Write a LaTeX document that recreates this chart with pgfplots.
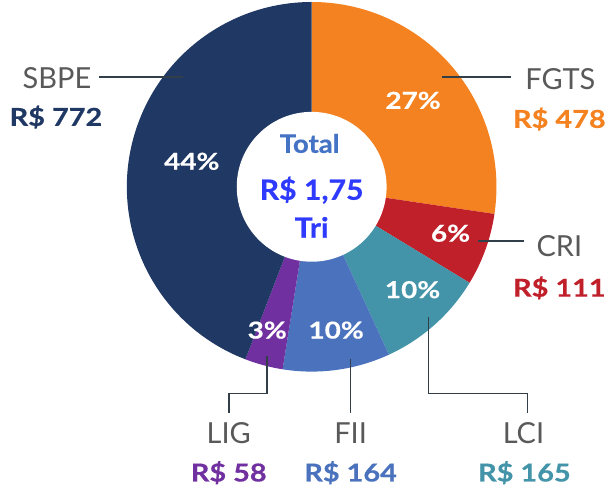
\documentclass[border=0pt]{standalone}
\usepackage{pgfplots}
\pgfplotsset{compat=1.18}
\usepackage{pgfplotstable}
\usepackage{fontspec}
\setmainfont{Lato}
\newfontfamily\bwA[FakeStretch=1.17,FakeBold=0.5]{Lato}
\newfontfamily\bwB[FakeStretch=1.2,FakeBold=0.5]{Lato}
\newfontfamily\bwC[FakeStretch=1.08,FakeBold=0.5]{Lato}
\definecolor{cSBPE}{HTML}{203864}
\definecolor{cFGTS}{HTML}{F58220}
\definecolor{cCRI}{HTML}{C0202A}
\definecolor{cLCI}{HTML}{4393A9}
\definecolor{cFII}{HTML}{4A72BD}
\definecolor{cLIG}{HTML}{7030A0}
\definecolor{ctotal}{HTML}{4472C4}
\definecolor{ctri}{HTML}{2E3BFF}
\definecolor{lbl}{HTML}{595959}
\definecolor{ln}{HTML}{333F48}
\pgfplotstableread{
name value
FGTS 478
CRI 111
LCI 165
FII 164
LIG 58
SBPE 772
}\shares
\newcommand\lblfont{\fontsize{29}{34}\selectfont}
\newcommand\valfont{\bwA\fontsize{24.7}{29}\selectfont\bfseries}
\newcommand\pctfont{\bwB\fontsize{23.3}{27}\selectfont\bfseries}
\begin{document}
\begin{tikzpicture}
\pgfplotstablegetelem{0}{value}\of\shares \let\vA\pgfplotsretval
\pgfplotstablegetelem{1}{value}\of\shares \let\vB\pgfplotsretval
\pgfplotstablegetelem{2}{value}\of\shares \let\vC\pgfplotsretval
\pgfplotstablegetelem{3}{value}\of\shares \let\vD\pgfplotsretval
\pgfplotstablegetelem{4}{value}\of\shares \let\vE\pgfplotsretval
\pgfplotstablegetelem{5}{value}\of\shares \let\vF\pgfplotsretval
\pgfmathsetmacro\tot{\vA+\vB+\vC+\vD+\vE+\vF}
\pgfmathsetmacro\aA{90}
\pgfmathsetmacro\aB{\aA-360*(\vA/\tot)}
\pgfmathsetmacro\aC{\aB-360*(\vB/\tot)}
\pgfmathsetmacro\aD{\aC-360*(\vC/\tot)}
\pgfmathsetmacro\aE{\aD-360*(\vD/\tot)}
\pgfmathsetmacro\aF{\aE-360*(\vE/\tot)}
\pgfmathsetmacro\aG{\aF-360*(\vF/\tot)}
\begin{axis}[
  width=609pt, height=490pt, scale only axis,
  xmin=0, xmax=609, ymin=0, ymax=490,
  hide axis, clip=false,
]
\addplot[draw=none] coordinates {(0,0) (609,490)};
\fill[cFGTS] (axis cs:312,303) -- ++(\aA:185pt) arc[start angle=\aA, end angle=\aB, radius=185pt] -- cycle;
\fill[cCRI] (axis cs:312,303) -- ++(\aB:185pt) arc[start angle=\aB, end angle=\aC, radius=185pt] -- cycle;
\fill[cLCI] (axis cs:312,303) -- ++(\aC:185pt) arc[start angle=\aC, end angle=\aD, radius=185pt] -- cycle;
\fill[cFII] (axis cs:312,303) -- ++(\aD:185pt) arc[start angle=\aD, end angle=\aE, radius=185pt] -- cycle;
\fill[cLIG] (axis cs:312,303) -- ++(\aE:185pt) arc[start angle=\aE, end angle=\aF, radius=185pt] -- cycle;
\fill[cSBPE] (axis cs:312,303) -- ++(\aF:185pt) arc[start angle=\aF, end angle=\aG, radius=185pt] -- cycle;
\fill[white] (axis cs:312,303) circle[radius=75pt];
% center text
\node[anchor=base, text=ctotal, font=\bwC\fontsize{25.5}{28}\selectfont\bfseries] at (axis cs:310,337) {Total};
\node[anchor=base, text=ctri, font=\bwC\fontsize{28}{32}\selectfont\bfseries] at (axis cs:312,290) {R\$ 1,75};
\node[anchor=base, text=ctri, font=\bwC\fontsize{28}{32}\selectfont\bfseries] at (axis cs:312,252) {Tri};
% percentages
\node[text=white, font=\pctfont] at (axis cs:192,328.5) {44\%};
\node[text=white, font=\pctfont] at (axis cs:413.5,389.5) {27\%};
\node[text=white, font=\pctfont] at (axis cs:451,256.5) {6\%};
\node[text=white, font=\pctfont] at (axis cs:413,200) {10\%};
\node[text=white, font=\pctfont] at (axis cs:336.5,159.5) {10\%};
\node[text=white, font=\pctfont] at (axis cs:267.5,159.5) {3\%};
% leader lines
\draw[ln, line width=1.6pt] (axis cs:99,413) -- (axis cs:183,413);
\draw[ln, line width=1.6pt] (axis cs:442,413) -- (axis cs:512,413);
\draw[ln, line width=1.6pt] (axis cs:479,249) -- (axis cs:525,249);
\draw[ln, line width=1.6pt] (axis cs:429,173) -- (axis cs:429,96) -- (axis cs:528,96) -- (axis cs:528,77);
\draw[ln, line width=1.6pt] (axis cs:351,131) -- (axis cs:351,77);
\draw[ln, line width=1.6pt] (axis cs:267,134) -- (axis cs:267,96) -- (axis cs:229,96) -- (axis cs:229,77);
% labels
\node[anchor=base, text=lbl, font=\lblfont] at (axis cs:57,401) {SBPE};
\node[anchor=base, text=cSBPE, font=\valfont] at (axis cs:56,364) {R\$ 772};
\node[anchor=base, text=lbl, font=\lblfont] at (axis cs:561,400) {FGTS};
\node[anchor=base, text=cFGTS, font=\valfont] at (axis cs:560,362) {R\$ 478};
\node[anchor=base, text=lbl, font=\lblfont] at (axis cs:560,233) {CRI};
\node[anchor=base, text=cCRI, font=\valfont] at (axis cs:560,193) {R\$ 111};
\node[anchor=base, text=lbl, font=\lblfont] at (axis cs:524,46) {LCI};
\node[anchor=base, text=cLCI, font=\valfont] at (axis cs:525,8) {R\$ 165};
\node[anchor=base, text=lbl, font=\lblfont] at (axis cs:351,46) {FII};
\node[anchor=base, text=cFII, font=\valfont] at (axis cs:351,8) {R\$ 164};
\node[anchor=base, text=lbl, font=\lblfont] at (axis cs:229,46) {LIG};
\node[anchor=base, text=cLIG, font=\valfont] at (axis cs:229,8) {R\$ 58};
\end{axis}
\end{tikzpicture}
\end{document}
